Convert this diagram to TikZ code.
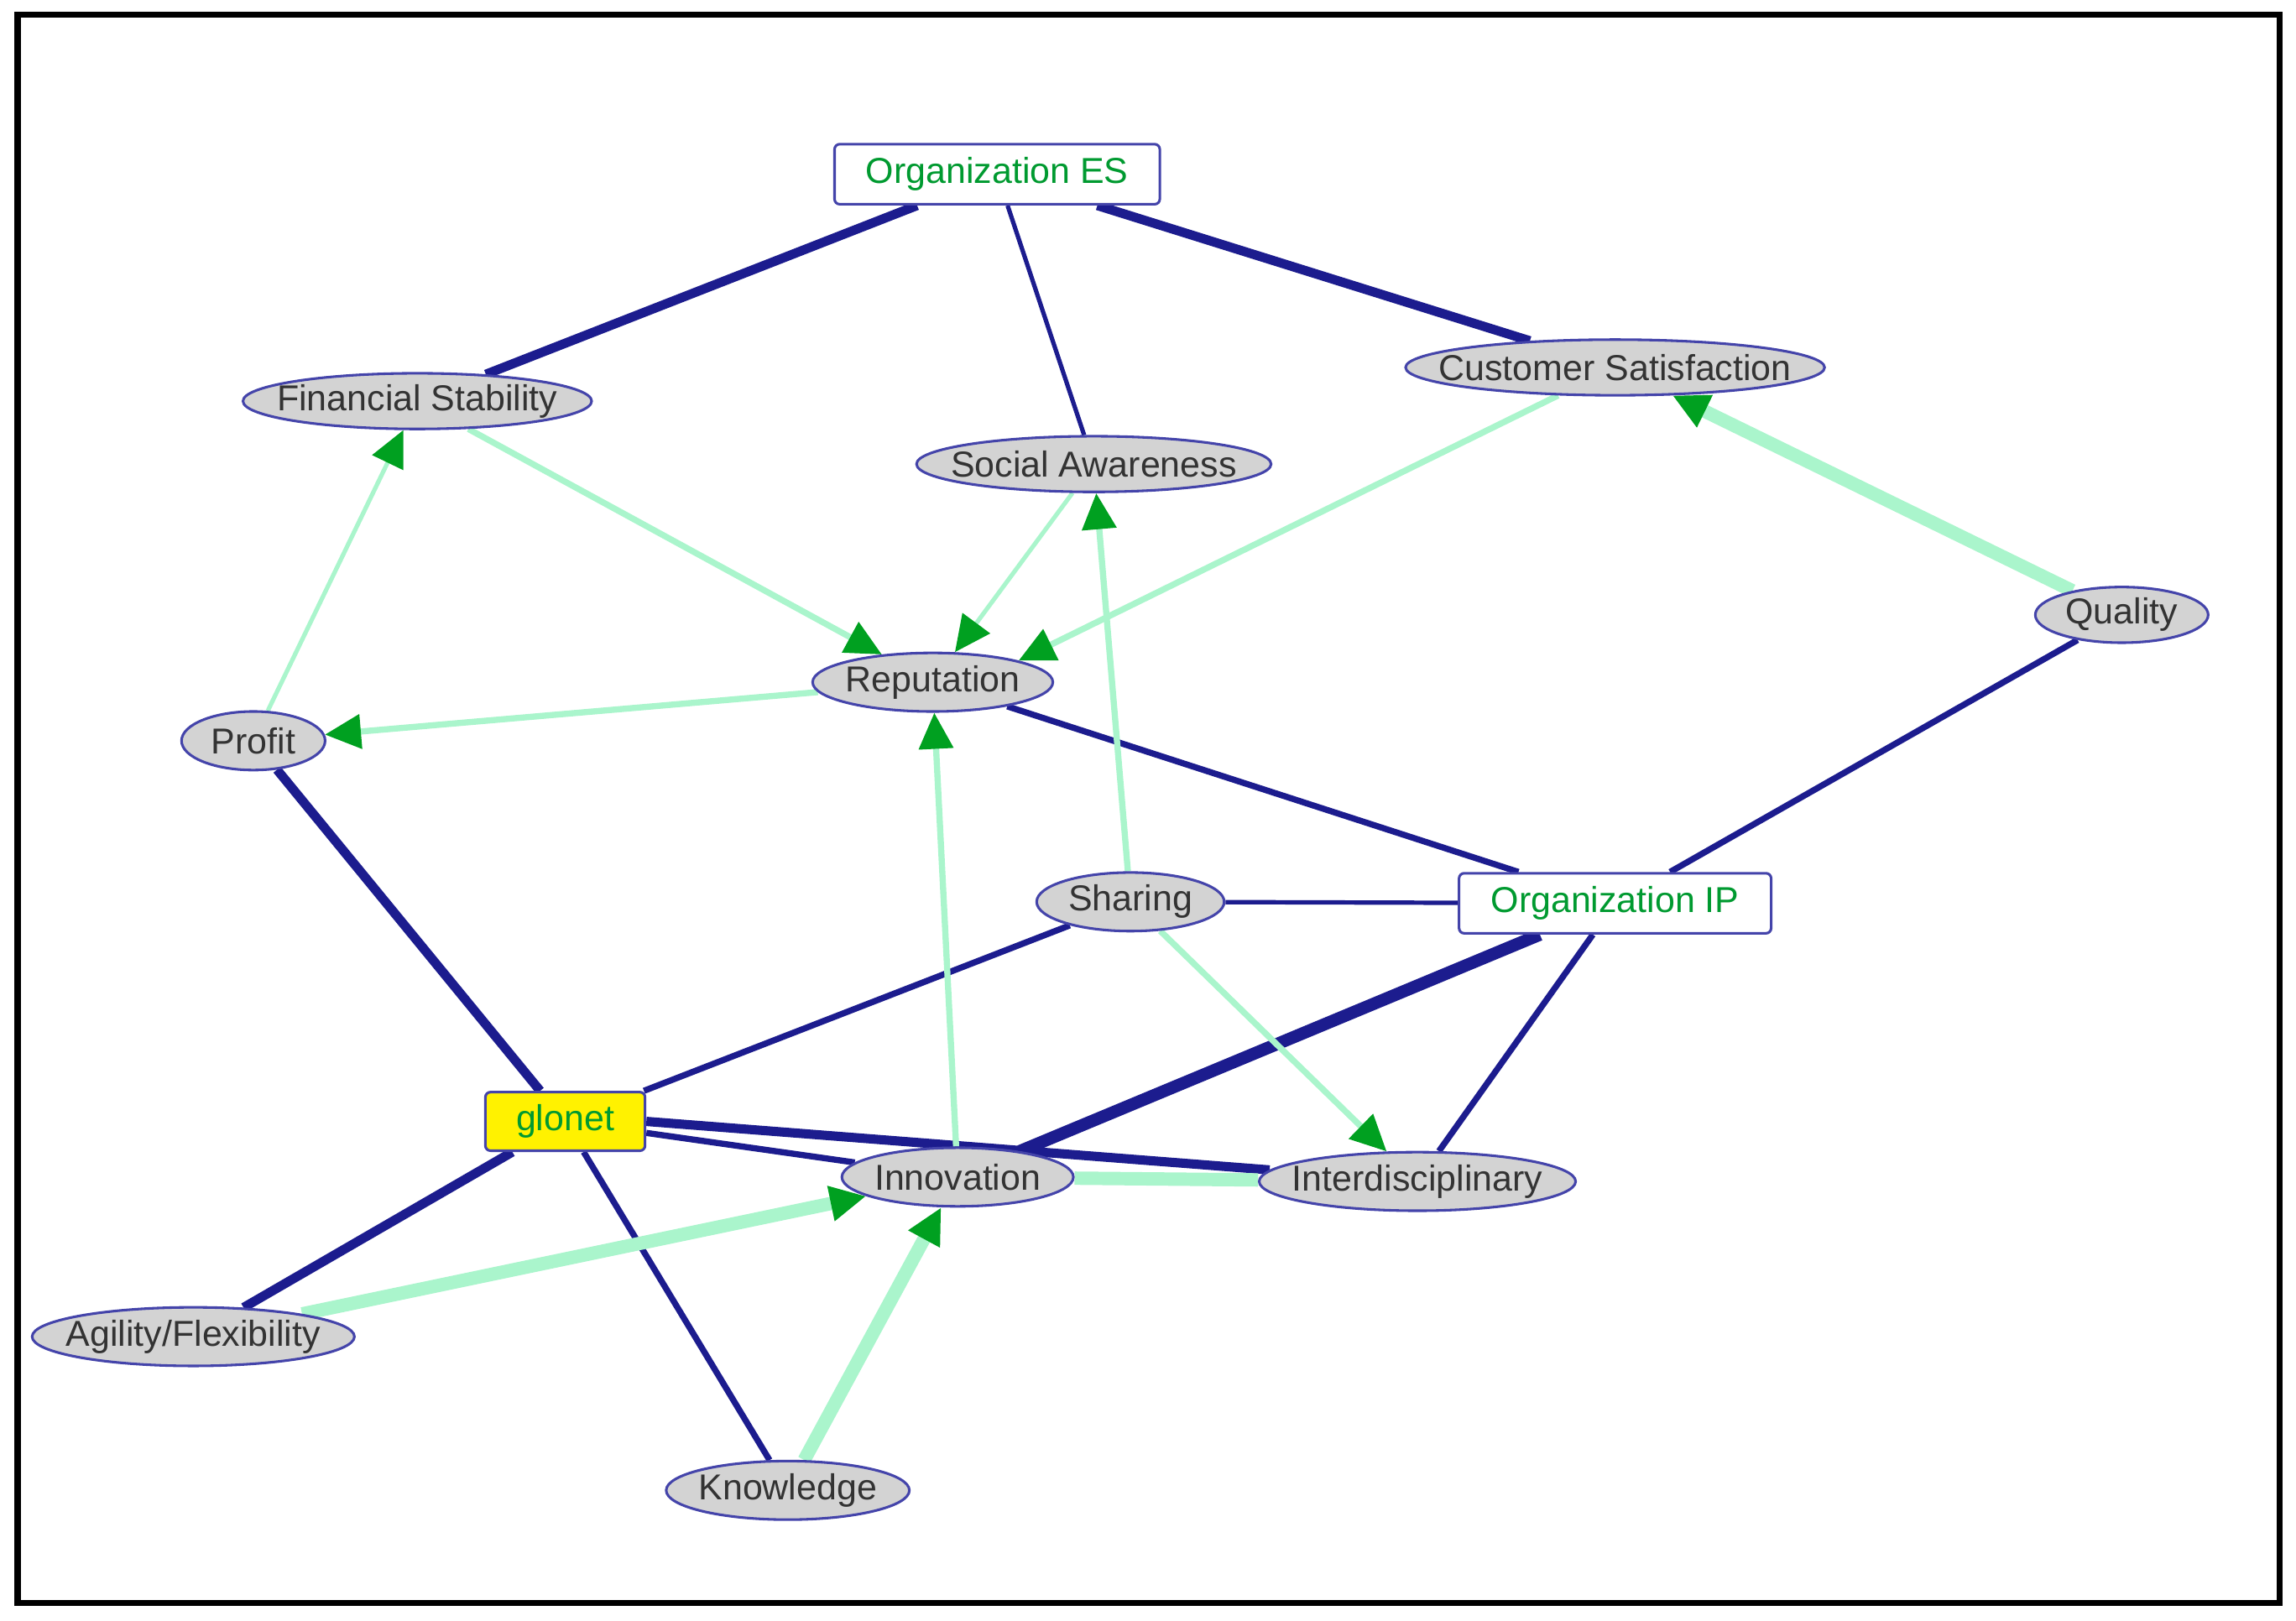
\documentclass[tikz,border=0pt]{standalone}
\usepackage{fontspec}
\setmainfont{Liberation Sans}
\usetikzlibrary{shapes.geometric,arrows.meta,backgrounds}
\definecolor{navy}{HTML}{1C1C8E}
\definecolor{edgeb}{HTML}{4444AA}
\definecolor{lgreen}{HTML}{AAF5CC}
\definecolor{dgreen}{HTML}{00A020}
\definecolor{tgreen}{HTML}{009A30}
\definecolor{ellfill}{HTML}{D3D3D3}
\newcommand{\zw}[1]{\makebox[0pt][c]{#1}}
\begin{document}
\begin{tikzpicture}[x=0.01cm,y=-0.01cm,
  every node/.style={font=\fontsize{7}{8}\selectfont},
  ell/.style={ellipse,draw=edgeb,fill=ellfill,text=black!80,inner sep=0pt,line width=0.5pt},
  box/.style={rectangle,draw=edgeb,fill=white,text=tgreen,inner sep=0pt,minimum height=0.41cm,rounded corners=1pt,line width=0.5pt},
  bl/.style={draw=navy},
  gr/.style={draw=lgreen,-{Triangle[length=7pt,width=6.5pt,color=dgreen]}},
  grn/.style={draw=lgreen},
  t1/.style={line width=0.85pt},
  t2/.style={line width=1.2pt},
  t3/.style={line width=1.8pt},
  t4/.style={line width=2.4pt}]
\useasboundingbox (0,0) rectangle (1568,1107);
\draw[line width=1.2pt] (12,10) rectangle (1557,1095);
\node[box,minimum width=2.22cm] (es) at (681,119) {\zw{Organization ES}};
\node[ell,minimum width=2.38cm,minimum height=0.38cm] (fs) at (285,274) {\zw{Financial Stability}};
\node[ell,minimum width=2.42cm,minimum height=0.38cm] (sa) at (747,317) {\zw{Social Awareness}};
\node[ell,minimum width=2.86cm,minimum height=0.38cm] (cs) at (1103,251) {\zw{Customer Satisfaction}};
\node[ell,minimum width=1.18cm,minimum height=0.38cm] (qu) at (1449,420) {\zw{Quality}};
\node[ell,minimum width=1.64cm,minimum height=0.40cm] (re) at (637,466) {\zw{Reputation}};
\node[ell,minimum width=0.98cm,minimum height=0.40cm] (pr) at (173,506) {\zw{Profit}};
\node[ell,minimum width=1.28cm,minimum height=0.40cm] (sh) at (772,616) {\zw{Sharing}};
\node[box,minimum width=2.13cm] (ip) at (1103,617) {\zw{Organization IP}};
\node[box,minimum width=1.09cm,minimum height=0.40cm,fill=yellow] (gl) at (386,766) {\zw{glonet}};
\node[ell,minimum width=1.58cm,minimum height=0.40cm] (in) at (654,804) {\zw{Innovation}};
\node[ell,minimum width=2.16cm,minimum height=0.40cm] (id) at (968,807) {\zw{Interdisciplinary}};
\node[ell,minimum width=2.20cm,minimum height=0.40cm] (ag) at (132,913) {\zw{Agility/Flexibility}};
\node[ell,minimum width=1.66cm,minimum height=0.40cm] (kn) at (538,1018) {\zw{Knowledge}};
\begin{scope}[on background layer]
\draw[bl,t3] (es) -- (fs);
\draw[bl,t1] (es) -- (sa);
\draw[bl,t3] (es) -- (cs);
\draw[bl,t2] (re) -- (ip);
\draw[bl,t2] (qu) -- (ip);
\draw[bl,t1] (sh) -- (ip);
\draw[bl,t4] (ip) -- (in);
\draw[bl,t2] (ip) -- (id);
\draw[bl,t3] (pr) -- (gl);
\draw[bl,t2] (gl) -- (kn);
\draw[bl,t2] (gl) -- (sh);
\draw[bl,t3] (gl.east) -- (id);
\draw[bl,t2] (gl) -- (in);
\draw[bl,t3] (gl) -- (ag);
\draw[gr,t1] (pr) -- (fs);
\draw[gr,t2] (fs) -- (re);
\draw[gr,t1] (sa) -- (re);
\draw[gr,t2] (cs) -- (re.north east);
\draw[gr,t2] (re) -- (pr);
\draw[gr,line width=2.6pt] (qu) -- (cs);
\draw[gr,t2] (sh) -- (sa);
\draw[gr,t2] (in) -- (re);
\draw[gr,t2] (sh) -- (id);
\draw[gr,line width=2.6pt] (ag) -- (in);
\draw[gr,line width=2.6pt] (kn) -- (in);
\draw[grn,line width=2.6pt] (id) -- (in);
\end{scope}
\end{tikzpicture}
\end{document}
